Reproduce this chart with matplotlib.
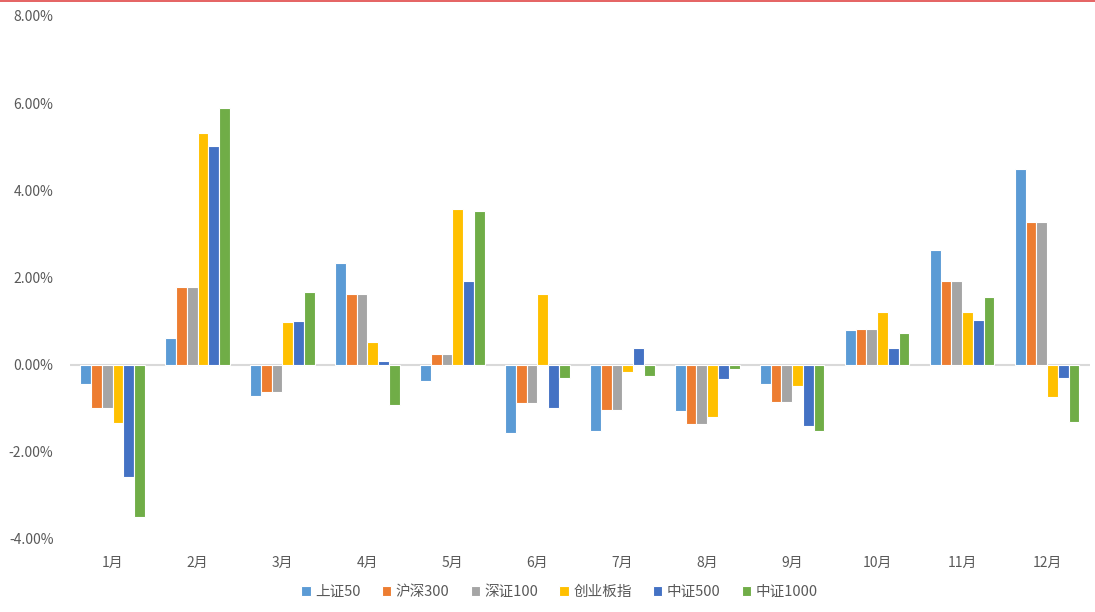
import numpy as np
import matplotlib.pyplot as plt
from matplotlib.lines import Line2D
from matplotlib.ticker import FuncFormatter

plt.rcParams['font.family'] = ['Noto Sans CJK SC', 'DejaVu Sans']

months = ['1月', '2月', '3月', '4月', '5月', '6月', '7月', '8月', '9月', '10月', '11月', '12月']
series = ['上证50', '沪深300', '深证100', '创业板指', '中证500', '中证1000']
colors = ['#5B9BD5', '#ED7D31', '#A5A5A5', '#FFC000', '#4472C4', '#70AD47']

sz50 = [-0.45, 0.60, -0.71, 2.33, -0.38, -1.56, -1.53, -1.07, -0.44, 0.79, 2.63, 4.48]
hs300 = [-1.00, 1.79, -0.63, 1.62, 0.25, -0.87, -1.03, -1.37, -0.85, 0.82, 1.92, 3.28]
sz100 = [-1.00, 1.79, -0.63, 1.62, 0.25, -0.87, -1.03, -1.37, -0.85, 0.82, 1.92, 3.28]
cyb = [-1.35, 5.32, 0.98, 0.52, 3.56, 1.61, -0.17, -1.21, -0.50, 1.20, 1.20, -0.74]
zz500 = [-2.57, 5.02, 1.00, 0.09, 1.91, -1.00, 0.38, -0.33, -1.40, 0.38, 1.03, -0.30]
zz1000 = [-3.50, 5.89, 1.67, -0.93, 3.53, -0.30, -0.25, -0.11, -1.53, 0.73, 1.56, -1.31]
data = [sz50, hs300, sz100, cyb, zz500, zz1000]

fig = plt.figure(figsize=(10.95, 6.12), dpi=100)
ax = fig.add_axes([0.064, 0.1193, 0.931, 0.8546])

x = np.arange(len(months))
n = len(series)
group = 0.76
w = group / n
for i, (vals, c, name) in enumerate(zip(data, colors, series)):
    off = (i - (n - 1) / 2) * w
    ax.bar(x + off, np.array(vals) / 100, width=w, color=c, label=name,
           edgecolor='white', linewidth=0.8, zorder=2)

ax.axhline(0, color='#D9D9D9', linewidth=1.5, zorder=1)
ax.set_xlim(-0.5, len(months) - 0.5)
ax.set_ylim(-0.04, 0.08)
ax.set_yticks(np.arange(-0.04, 0.081, 0.02))
ax.yaxis.set_major_formatter(FuncFormatter(lambda v, p: f'{v * 100:.2f}%'))
ax.set_xticks(x)
ax.set_xticklabels(months)
ax.tick_params(axis='both', length=0, labelsize=10, colors='#595959')
ax.tick_params(axis='x', pad=12)
ax.tick_params(axis='y', pad=12)
for s in ax.spines.values():
    s.set_visible(False)

fig.legend(loc='center', bbox_to_anchor=(0.511, 0.033), ncol=6, frameon=False,
           fontsize=10.5, handlelength=0.65, handleheight=0.65, handletextpad=0.3,
           columnspacing=1.45, labelcolor='#595959')

fig.add_artist(Line2D([0, 1], [0.999, 0.999], color='#E04848', linewidth=1.2,
                      transform=fig.transFigure))

fig.savefig('out.png', dpi=100)
